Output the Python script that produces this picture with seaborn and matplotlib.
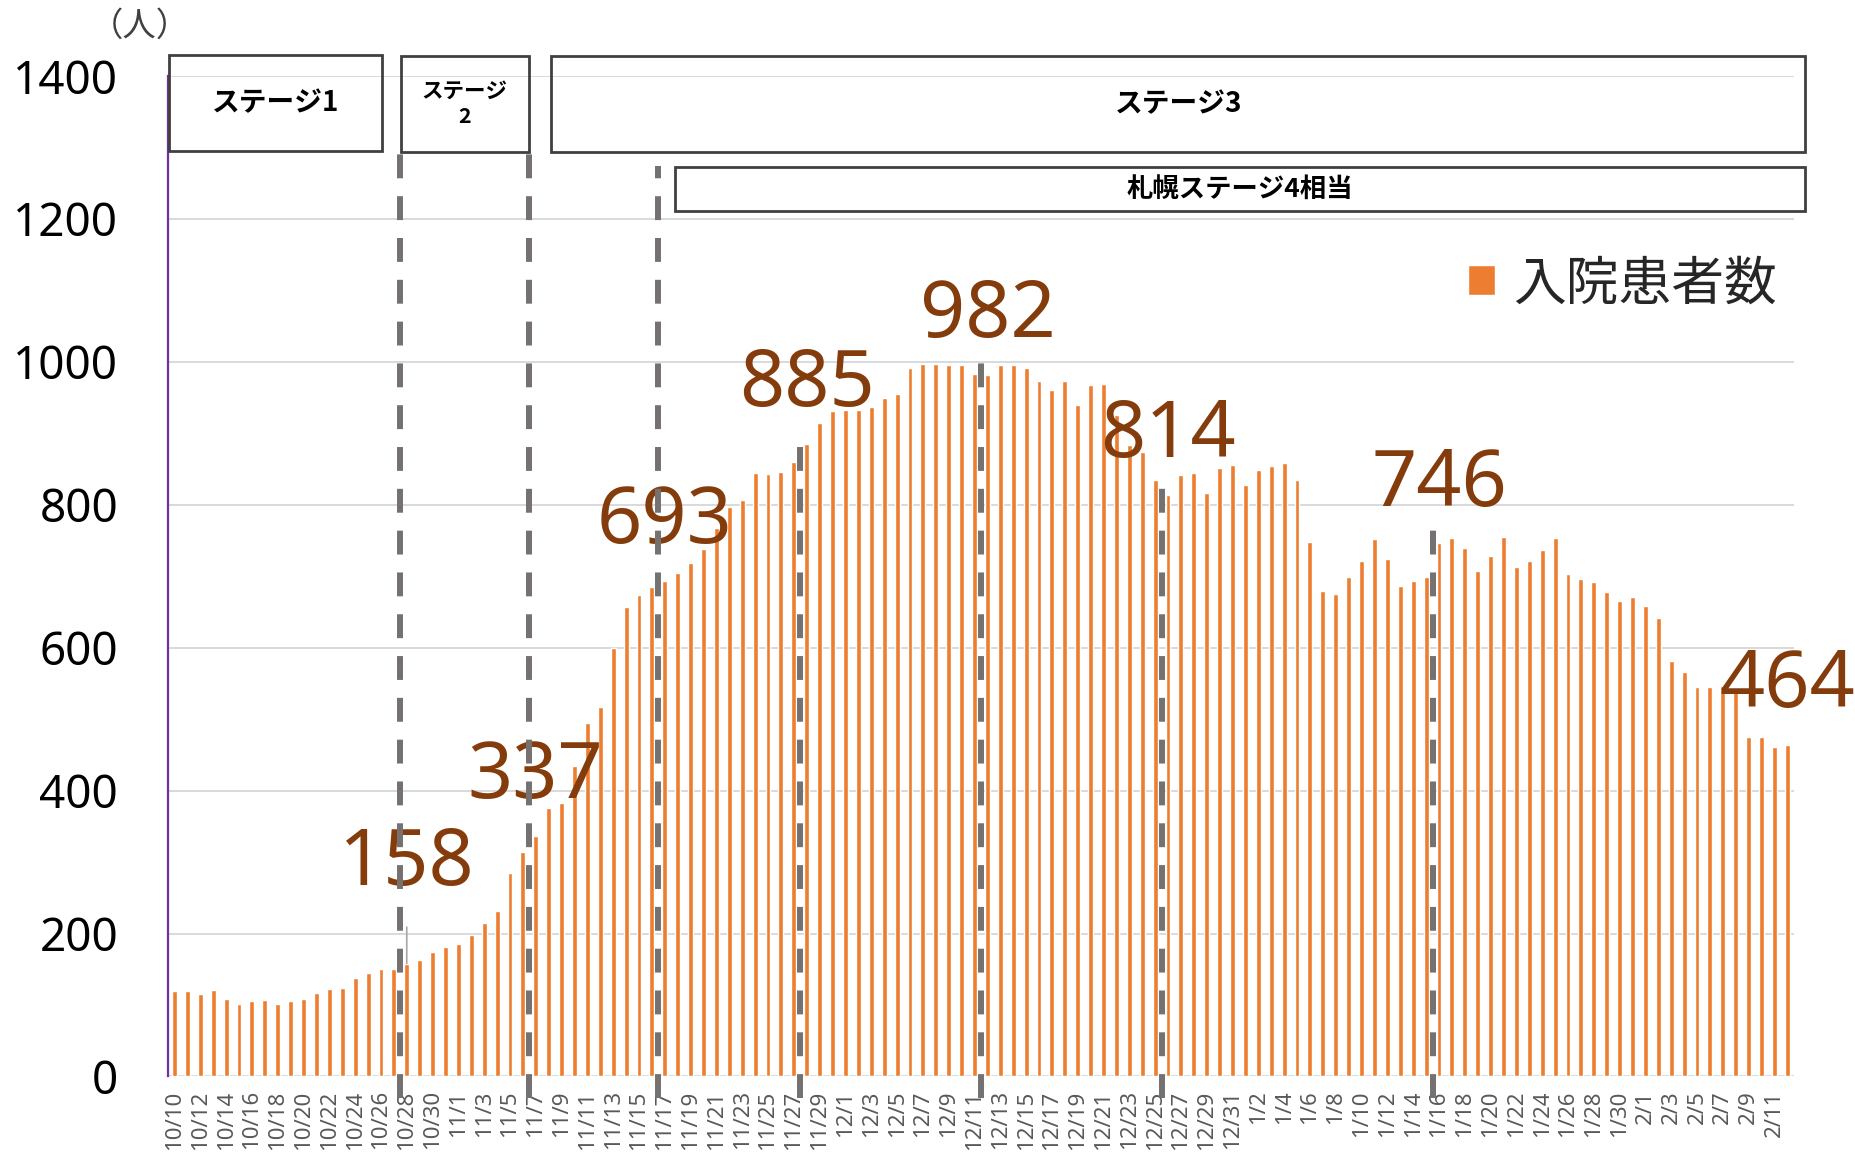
import matplotlib
matplotlib.use("Agg")
import pandas as pd
import seaborn as sns
import matplotlib.pyplot as plt
from matplotlib.patches import Rectangle

# daily categories 10/10 .. 2/12
dates = pd.date_range("2020-10-10", "2021-02-12", freq="D")
day_labels = [f"{d.month}/{d.day}" for d in dates]

# 入院患者数
inpatients = [
    120, 120, 116, 121, 109, 102, 105, 107, 102, 105, 109, 117, 122, 124, 138, 145,
    150, 151, 158, 163, 174, 181, 186, 198, 215, 231,
    285, 314, 337, 376, 382, 434, 494, 517, 600, 657, 674, 685, 693, 705, 718,
    738, 768,
    797, 806, 845, 843, 846, 860, 885, 914, 931, 933, 933, 937, 950, 955, 992, 997,
    997, 995, 995, 983, 982,
    995, 996, 991, 973, 961, 973, 939, 968, 969, 926, 884, 874, 835, 814, 841, 845,
    816, 851, 856, 828, 848, 854, 859, 834,
    748, 679, 675, 699, 721, 752, 724, 686, 693, 699, 746, 753, 739, 708,
    729, 755, 713, 721, 737, 754, 703, 696, 692, 678, 665, 671, 658, 641, 581, 566,
    545, 545, 547, 540, 475, 475, 461, 464,
]

# annotated days (value labels + dashed markers)
label_days = ["10/28", "11/7", "11/17", "11/28", "12/12", "12/26", "1/16", "2/12"]
marker_days = ["10/28", "11/7", "11/17", "11/28", "12/12", "12/26", "1/16"]
marker_tops = [1310, 1310, 1274, 890, 1012, 829, 767]

stage_names = ["ステージ1", "ステージ\n2", "ステージ3", "札幌ステージ4相当"]

# layout of the stage boxes (data coords: x0, x1, y0, y1, fontsize)
stage_boxes = [
    (-0.45, 16.05, 1295, 1430, 20),
    (17.55, 27.45, 1293, 1428, 15.5),
    (29.2, 126.4, 1293, 1428, 20),
    (38.8, 126.4, 1211, 1273, 19),
]

BAR = "#ED7D31"
LABEL = "#843C0C"
PURPLE = "#7030A0"
JP = ["Noto Sans CJK JP", "DejaVu Sans"]

sns.set_theme(style="white")
plt.rcParams["font.family"] = ["Noto Sans", "Noto Sans CJK JP", "DejaVu Sans"]

fig, ax = plt.subplots(figsize=(18.55, 11.66), dpi=100)
fig.subplots_adjust(left=0.0906, right=0.967, bottom=0.0768, top=0.9348)

df = pd.DataFrame({"date": day_labels, "patients": inpatients})
sns.barplot(data=df, x="date", y="patients", color=BAR, saturation=1,
            width=0.38, ax=ax, label="入院患者数", zorder=2)

ax.set_xlim(-0.5, len(day_labels) - 0.5)
ax.set_ylim(0, 1400)
ax.set_yticks(range(0, 1401, 200))
ax.set_xticks(range(0, len(day_labels), 2))
ax.set_xticklabels(day_labels[::2], rotation=90, fontsize=16, color="#595959")
ax.tick_params(axis="x", length=0, pad=10)
ax.tick_params(axis="y", direction="in", length=12, width=1.6, color=PURPLE,
               labelsize=33, pad=36, labelcolor="black")
ax.set_xlabel("")
ax.set_ylabel("")
ax.yaxis.grid(True, color="#D9D9D9", lw=1.4)
ax.set_axisbelow(True)
for side in ["top", "right", "bottom"]:
    ax.spines[side].set_visible(False)
ax.spines["left"].set_color(PURPLE)
ax.spines["left"].set_linewidth(1.6)

# value labels
for day in label_days:
    i = day_labels.index(day)
    v = inpatients[i]
    if day == "10/28":
        ax.annotate(str(v), xy=(i, v), xytext=(0, 71), textcoords="offset points",
                    ha="center", va="center", fontsize=57, color=LABEL, zorder=4,
                    annotation_clip=False,
                    arrowprops=dict(arrowstyle="-", color="#A6A6A6", lw=1.2,
                                    shrinkA=14, shrinkB=0))
    else:
        ax.annotate(str(v), xy=(i, v), xytext=(0, 42), textcoords="offset points",
                    ha="center", va="center", fontsize=57, color=LABEL, zorder=4,
                    annotation_clip=False)

# dashed markers
for day, top in zip(marker_days, marker_tops):
    x = day_labels.index(day) - 0.5
    ax.plot([x, x], [-30, top], color="#767171", lw=4.3, ls=(0, (4, 3)),
            zorder=5, clip_on=False)

# stage boxes
for name, (x0, x1, y0, y1, fs) in zip(stage_names, stage_boxes):
    ax.add_patch(Rectangle((x0, y0), x1 - x0, y1 - y0, fill=False, ec="#404040",
                           lw=2, clip_on=False, zorder=6))
    ax.text((x0 + x1) / 2, (y0 + y1) / 2, name, ha="center", va="center",
            fontsize=fs, fontweight="bold", color="black", linespacing=1.25,
            family=JP, zorder=6, clip_on=False)

# legend
handles, labels = ax.get_legend_handles_labels()
leg = ax.legend(handles[:1], labels[:1], loc="center right", frameon=False,
                bbox_to_anchor=(0.958, 0.755), bbox_transform=fig.transFigure,
                fontsize=38, handlelength=0.5, handleheight=0.5,
                handletextpad=0.35, borderaxespad=0, borderpad=0)
for t in leg.get_texts():
    t.set_color("#262626")

fig.text(90 / 1855, 1 - 26 / 1166, "（人）", fontsize=24, ha="left", va="center",
         color="#404040", family=JP)

fig.savefig("out.png", dpi=100)
